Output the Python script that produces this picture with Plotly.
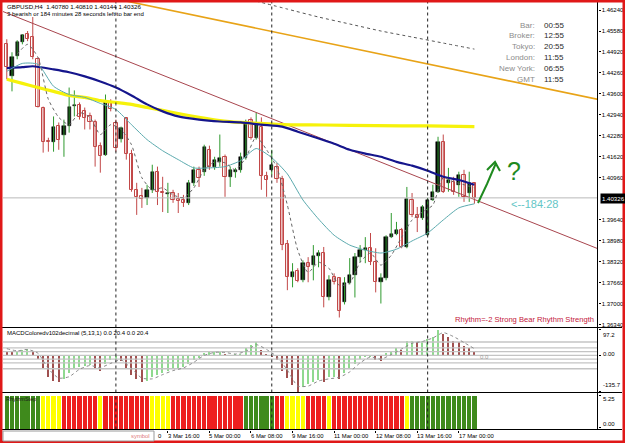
import plotly.graph_objects as go

W, H = 625, 443
def fx(px):
    return px / W
def fy(py):
    return 1 - py / H

# ---------------- data ----------------
bars = list(range(-21, 70))
opens = [1.4516, 1.4415, 1.4478, 1.4523, 1.4548, 1.4539, 1.4469, 1.4317, 1.4213, 1.4210,
         1.4260, 1.4232, 1.4260, 1.4322, 1.4324, 1.4305, 1.4289, 1.4273, 1.4197, 1.4169,
         1.4333, 1.4267, 1.4219, 1.4283, 1.4172, 1.4058, 1.4039, 1.4033, 1.4058, 1.4115,
         1.4052, 1.4045, 1.4048, 1.4030, 1.4026, 1.4017, 1.4080, 1.4121, 1.4115, 1.4184,
         1.4131, 1.4146, 1.4162, 1.4099, 1.4115, 1.4121, 1.4159, 1.4279, 1.4222, 1.4257,
         1.4102, 1.4121, 1.4131, 1.4093, 1.3887, 1.3783, 1.3802, 1.3773, 1.3827, 1.3821,
         1.3849, 1.3859, 1.3719, 1.3783, 1.3779, 1.3704, 1.3764, 1.3789, 1.3846, 1.3868,
         1.3874, 1.3830, 1.3767, 1.3779, 1.3909, 1.3919, 1.3931, 1.3878, 1.4026, 1.3979,
         1.3969, 1.3915, 1.4026, 1.4052, 1.4210, 1.4080, 1.4083, 1.4074, 1.4105, 1.4048,
         1.40780]
highs = [1.4532, 1.4491, 1.4529, 1.4548, 1.4558, 1.4602, 1.4475, 1.4320, 1.4222, 1.4289,
         1.4270, 1.4279, 1.4380, 1.4371, 1.4333, 1.4317, 1.4301, 1.4279, 1.4207, 1.4358,
         1.4343, 1.4279, 1.4257, 1.4286, 1.4184, 1.4080, 1.4064, 1.4074, 1.4137, 1.4131,
         1.4099, 1.4080, 1.4058, 1.4048, 1.4042, 1.4089, 1.4131, 1.4131, 1.4200, 1.4197,
         1.4162, 1.4232, 1.4169, 1.4131, 1.4127, 1.4175, 1.4279, 1.4286, 1.4301, 1.4286,
         1.4115, 1.4184, 1.4143, 1.4102, 1.3900, 1.3827, 1.3811, 1.3836, 1.3846, 1.3884,
         1.3868, 1.3878, 1.3789, 1.3795, 1.3783, 1.3783, 1.3843, 1.3859, 1.3884, 1.3909,
         1.3922, 1.3874, 1.3795, 1.3915, 1.3985, 1.3957, 1.3938, 1.4067, 1.4048, 1.4004,
         1.4010, 1.4033, 1.4074, 1.4225, 1.4232, 1.4127, 1.4099, 1.4115, 1.4121, 1.4115,
         1.40810]
lows = [1.4406, 1.4368, 1.4469, 1.4516, 1.4526, 1.4469, 1.4317, 1.4175, 1.4178, 1.4178,
        1.4184, 1.4162, 1.4238, 1.4289, 1.4279, 1.4248, 1.4248, 1.4131, 1.4112, 1.4165,
        1.4305, 1.4178, 1.4207, 1.4153, 1.4052, 1.3979, 1.4001, 1.4010, 1.4048, 1.4010,
        1.3988, 1.3985, 1.4017, 1.3985, 1.4004, 1.4010, 1.4070, 1.4067, 1.4102, 1.4121,
        1.4121, 1.4131, 1.4036, 1.4067, 1.4096, 1.4112, 1.4153, 1.4216, 1.4216, 1.4058,
        1.4036, 1.4105, 1.4080, 1.3868, 1.3742, 1.3751, 1.3767, 1.3767, 1.3767, 1.3773,
        1.3814, 1.3688, 1.3710, 1.3760, 1.3656, 1.3697, 1.3760, 1.3719, 1.3830, 1.3827,
        1.3821, 1.3735, 1.3700, 1.3773, 1.3906, 1.3915, 1.3874, 1.3874, 1.3972, 1.3925,
        1.3963, 1.3912, 1.4023, 1.4048, 1.4048, 1.4052, 1.4042, 1.4036, 1.4020, 1.4020,
        1.40144]
closes = [1.4444, 1.4475, 1.4523, 1.4545, 1.4532, 1.4475, 1.4320, 1.4207, 1.4210, 1.4257,
          1.4216, 1.4260, 1.4320, 1.4324, 1.4286, 1.4283, 1.4273, 1.4194, 1.4165, 1.4333,
          1.4311, 1.4191, 1.4254, 1.4172, 1.4058, 1.4036, 1.4029, 1.4058, 1.4115, 1.4052,
          1.4048, 1.4048, 1.4026, 1.4024, 1.4017, 1.4080, 1.4121, 1.4096, 1.4194, 1.4131,
          1.4153, 1.4159, 1.4099, 1.4121, 1.4121, 1.4162, 1.4270, 1.4222, 1.4263, 1.4102,
          1.4089, 1.4137, 1.4093, 1.3884, 1.3783, 1.3798, 1.3770, 1.3827, 1.3814, 1.3849,
          1.3859, 1.3719, 1.3773, 1.3767, 1.3678, 1.3764, 1.3789, 1.3846, 1.3868, 1.3874,
          1.3830, 1.3767, 1.3779, 1.3909, 1.3919, 1.3931, 1.3878, 1.4029, 1.3979, 1.3969,
          1.4004, 1.4026, 1.4052, 1.4207, 1.4052, 1.4089, 1.4052, 1.4105, 1.4036, 1.4080,
          1.40326]

# moving averages (sampled bars)
ma_slow_bars = [-21, -18, -16, -12, -9, -6, -3, 0, 3, 6, 9, 12, 16, 20, 24, 28, 32, 35, 38, 42, 45, 48, 51, 54, 57, 60, 63, 66, 69]
ma_slow = [1.4441, 1.4444, 1.4447, 1.4437, 1.4428, 1.4415, 1.4399, 1.4380, 1.4355, 1.4327, 1.4305, 1.4289, 1.4279, 1.4273,
           1.4270, 1.4263, 1.4257, 1.4241, 1.4225, 1.4203, 1.4184, 1.4172, 1.4162, 1.4146, 1.4134, 1.4118, 1.4099, 1.4089, 1.4074]
ma_yellow_bars = [-21, -18, -15, -12, -9, -6, -3, 0, 3, 6, 9, 12, 16, 20, 24, 28, 32, 40, 50, 60, 69]
ma_yellow = [1.4406, 1.4393, 1.4380, 1.4368, 1.4355, 1.4349, 1.4339, 1.4333, 1.4327, 1.4317, 1.4308, 1.4298, 1.4286,
             1.4276, 1.4270, 1.4267, 1.4263, 1.4262, 1.4260, 1.4259, 1.4257]
ma_teal_bars = [-21, -18, -15, -12, -9, -6, -3, 0, 3, 6, 9, 12, 15, 18, 21, 24, 27, 30, 33, 36, 39, 42, 45, 48, 51, 54, 57, 60, 63, 66, 69]
ma_teal = [1.4431, 1.4456, 1.4453, 1.4384, 1.4358, 1.4349, 1.4330, 1.4311, 1.4263, 1.4216, 1.4181, 1.4153, 1.4127, 1.4127,
           1.4131, 1.4150, 1.4188, 1.4159, 1.4108, 1.4026, 1.3966, 1.3915, 1.3884, 1.3868, 1.3859, 1.3871, 1.3897, 1.3922,
           1.3963, 1.4001, 1.4014]
ma_fast_bars = list(range(-19, 70, 2))
ma_fast = [1.4485, 1.4516, 1.4475, 1.4343, 1.4286, 1.4263, 1.4301, 1.4286, 1.4232, 1.4263, 1.4248, 1.4200, 1.4096, 1.4058,
           1.4064, 1.4042, 1.4033, 1.4064, 1.4121, 1.4146, 1.4143, 1.4121, 1.4159, 1.4225, 1.4184, 1.4127, 1.4010, 1.3868,
           1.3798, 1.3830, 1.3811, 1.3757, 1.3764, 1.3830, 1.3859, 1.3821, 1.3852, 1.3909, 1.3963, 1.3988, 1.4010, 1.4096,
           1.4083, 1.4074, 1.4064]
ma_htf_bars = [27, 33, 39, 45, 51, 57, 63, 69]
ma_htf = [1.4652, 1.4627, 1.4602, 1.4580, 1.4558, 1.4539, 1.4520, 1.4501]

trend_orange_bars = [0, 95]
trend_orange = [1.4659, 1.4335]
trend_red_bars = [-22, 95]
trend_red = [1.4621, 1.3858]
current_price = 1.40326

price_ticks = [1.46240, 1.45580, 1.44920, 1.44260, 1.43600, 1.42940, 1.42280, 1.41620,
               1.40960, 1.39640, 1.38980, 1.38320, 1.37660, 1.37000, 1.36340]

macd_hist = [16, 13, 16, 23, 27, 19, -10, -51, -78, -94, -99, -88, -64, -51, -42, -37, -35, -44, -58, -31,
             -17, -11, -21, -44, -71, -88, -98, -94, -80, -71, -64, -58, -51, -48, -42, -31, -17, -8, 9, 13,
             14, 16, 7, 3, 5, 8, 29, 40, 50, 23, 5, -2, -17, -58, -84, -110, -135.7, -118, -104, -98,
             -90, -96, -80, -78, -86, -64, -51, -31, -11, -4, -1, -17, -20, 9, 13, 29, 23, 54, 55, 50,
             56, 63, 72, 97.2, 83, 70, 56, 50, 36, 29, 13]
macd_signal_bars = list(range(-21, 70, 2))
macd_signal = [25, 17, 22, 8, -50, -85, -80, -52, -38, -46, -30, -17, -50, -85, -88, -72, -57, -47, -26, 0,
               11, 11, 5, 15, 40, 22, -5, -55, -115, -115, -96, -88, -82, -62, -28, -6, -14, 3, 24, 45,
               52, 65, 85, 70, 48, 25]
macd_levels = [50, 28, 14, 0, -14, -28, -50]
macd_max, macd_min = 97.2, -135.7

rhythm_state = (['G'] * 7 + ['Y'] * 4 + ['R'] * 7 + ['Y'] * 1 + ['R'] * 9 + ['Y'] * 4 + ['R'] * 14 +
                ['G'] * 6 + ['R'] * 2 + ['Y'] * 4 + ['R'] * 4 + ['Y'] * 1 + ['R'] * 14 + ['Y'] * 1 + ['G'] * 13)
rhythm_top = 5.25

separator_bars = [0, 30, 60]
x_tick_bars = [-14, -6, 2, 10, 18, 26, 34, 42, 50, 58, 66]
x_label_bars = [10, 18, 26, 34, 42, 50, 58, 66]
x_tick_labels = ["3 Mar 16:00", "5 Mar 00:00", "6 Mar 08:00", "9 Mar 16:00",
                 "11 Mar 00:00", "12 Mar 08:00", "13 Mar 16:00", "17 Mar 00:00"]

info_labels = ["Bar:", "Broker:", "Tokyo:", "London:", "New York:", "GMT"]
info_values = ["00:55", "12:55", "20:55", "11:55", "06:55", "11:55"]

# ---------------- figure ----------------
FONT = "Liberation Sans"
XR = [-21.73, 92.69]
fig = go.Figure()

bull = [c >= o for o, c in zip(opens, closes)]

def wick_trace(sel, color):
    xs, ys = [], []
    for b, l, h, s in zip(bars, lows, highs, sel):
        if s:
            xs += [b, b, None]
            ys += [l, h, None]
    return go.Scatter(x=xs, y=ys, mode="lines", line=dict(color=color, width=1),
                      hoverinfo="skip", showlegend=False, xaxis="x", yaxis="y")

fig.add_trace(wick_trace(bull, "#2f9a2f"))
fig.add_trace(wick_trace([not b for b in bull], "#c24848"))

bx = [b for b, s in zip(bars, bull) if s]
fig.add_trace(go.Bar(x=bx,
                     base=[min(o, c) for o, c, s in zip(opens, closes, bull) if s],
                     y=[max(abs(c - o), 0.00003) for o, c, s in zip(opens, closes, bull) if s],
                     width=0.62, marker=dict(color="#000000", line=dict(color="#000000", width=0.5)),
                     showlegend=False, hoverinfo="skip", xaxis="x", yaxis="y"))
rx = [b for b, s in zip(bars, bull) if not s]
fig.add_trace(go.Bar(x=rx,
                     base=[min(o, c) for o, c, s in zip(opens, closes, bull) if not s],
                     y=[max(abs(c - o), 0.00003) for o, c, s in zip(opens, closes, bull) if not s],
                     width=0.62, marker=dict(color="#ffffff", line=dict(color="#c24848", width=1)),
                     showlegend=False, hoverinfo="skip", xaxis="x", yaxis="y"))

def line(xs, ys, color, width, dash="solid", ax="x", ay="y"):
    fig.add_trace(go.Scatter(x=xs, y=ys, mode="lines", line=dict(color=color, width=width, dash=dash, shape="spline", smoothing=0.6),
                             hoverinfo="skip", showlegend=False, xaxis=ax, yaxis=ay))

line(ma_htf_bars, ma_htf, "#555555", 1, "dot")
line(trend_orange_bars, trend_orange, "#e8a317", 1.6)
line(trend_red_bars, trend_red, "#a8454e", 1)
line(XR, [current_price, current_price], "#b9b9b9", 1)
line(ma_yellow_bars, ma_yellow, "#f6f20a", 3.2)
line(ma_slow_bars, ma_slow, "#15158c", 2.2)
line(ma_teal_bars, ma_teal, "#5aa9ad", 1)
line(ma_fast_bars, ma_fast, "#666666", 1, "dot")

# MACD panel
for lv in macd_levels:
    line(XR, [lv, lv], "#c4c4c4", 1.4, ax="x2", ay="y2")
rising = [False] + [macd_hist[i] > macd_hist[i - 1] for i in range(1, len(macd_hist))]
fig.add_trace(go.Bar(x=bars, y=macd_hist, width=0.28,
                     marker=dict(color=["#8fd98f" if r else "#a0504f" for r in rising], line=dict(width=0)),
                     showlegend=False, hoverinfo="skip", xaxis="x2", yaxis="y2"))
line(macd_signal_bars, macd_signal, "#8a8a8a", 1, "dot", ax="x2", ay="y2")

# rhythm panel
state_color = {"G": "#3f8a1c", "R": "#ee1f1f", "Y": "#ffff00"}
fig.add_trace(go.Bar(x=bars, y=[rhythm_top] * len(bars), width=0.82,
                     marker=dict(color=[state_color[s] for s in rhythm_state], line=dict(width=0)),
                     showlegend=False, hoverinfo="skip", xaxis="x3", yaxis="y3"))

# separators
shapes = []
for sb in separator_bars:
    for xa, ya in (("x", "y domain"), ("x2", "y2 domain"), ("x3", "y3 domain")):
        shapes.append(dict(type="line", xref=xa, yref=ya, x0=sb, x1=sb, y0=0, y1=1,
                           line=dict(color="#222222", width=1, dash="dot")))

# panel borders
for py in (327.5, 392.5, 429.5):
    shapes.append(dict(type="line", xref="paper", yref="paper", x0=fx(2), x1=fx(622), y0=fy(py), y1=fy(py),
                       line=dict(color="#000000", width=1)))
shapes.append(dict(type="line", xref="paper", yref="paper", x0=fx(597.5), x1=fx(597.5), y0=fy(429.5), y1=fy(1),
                   line=dict(color="#000000", width=1)))
# outer red frame
shapes.append(dict(type="rect", xref="paper", yref="paper", x0=0, x1=1, y0=0, y1=1,
                   line=dict(color="#e01818", width=5)))
# white "symbol" box on the time strip
shapes.append(dict(type="rect", xref="paper", yref="paper", x0=fx(3), x1=fx(154), y0=fy(441), y1=fy(431),
                   fillcolor="#ffffff", line=dict(color="#9a9a9a", width=1)))
# hand-drawn green arrow
def pth(points):
    return "M " + " L ".join(f"{fx(a):.5f},{fy(b):.5f}" for a, b in points)
shapes.append(dict(type="path", xref="paper", yref="paper", path=pth([(478, 203), (487, 184), (496, 163)]),
                   line=dict(color="#1f8a1f", width=2)))
shapes.append(dict(type="path", xref="paper", yref="paper", path=pth([(487, 170), (495, 162), (500, 171)]),
                   line=dict(color="#1f8a1f", width=2)))

ann = []
def text(x, y, s, size, color="#000000", xanchor="left", yanchor="middle", **kw):
    d = dict(x=fx(x), y=fy(y), xref="paper", yref="paper", text=s, showarrow=False,
             xanchor=xanchor, yanchor=yanchor, font=dict(family=FONT, size=size, color=color))
    d.update(kw)
    ann.append(d)

text(5, 6.5, "GBPUSD,H4&nbsp;&nbsp;1.40780 1.40810 1.40144 1.40326", 6.2)
text(5, 14.5, "3 bearish or 184 minutes 28 seconds left to bar end", 6.0)
for k, (lab, val) in enumerate(zip(info_labels, info_values)):
    yy = 25 + 10.9 * k
    text(537, yy, lab, 8, "#8c8c8c", xanchor="right")
    text(542, yy, val, 8, "#2a2a2a")
text(509, 204, "&lt;--184:28", 11, "#63c6c6")
text(505, 171, "?", 25, "#1f8a1f")
text(596, 319.5, "Rhythm=-2 Strong Bear Rhythm Strength", 7.6, "#c4203c", xanchor="right")
text(5, 333, "MACDColoredv102decimal (5,13,1) 0.0 20.4 0.0 20.4", 6.0)
text(478, 357, "0.0", 6, "#9a9a9a")
text(4, 399, "RhythmStep", 5.5, "#1a1a1a")

# right-hand scale labels of the lower panels
text(600.5, 329.5, f"{macd_max:.1f}", 6.0, yanchor="top")
text(600.5, 354, "0.00", 6.0)
text(600.5, 390, f"{macd_min:.1f}", 6.0, yanchor="bottom")
text(600.5, 394, f"{rhythm_top:.2f}", 6.0, yanchor="top")
text(600.5, 428.5, "0.00", 6.0, yanchor="bottom")

# current price label
text(599.5, 198, f"{current_price:.5f}", 6.1, "#ffffff", bgcolor="#000000", borderpad=1)

# x labels
for b, lab in zip(x_label_bars, x_tick_labels):
    ann.append(dict(x=b - 0.4, y=fy(436), xref="x3", yref="paper", text=lab, showarrow=False,
                    xanchor="left", yanchor="middle", font=dict(family=FONT, size=5.9, color="#000000")))
text(152, 436, "symbol", 5.9, "#e07a7a", xanchor="right")
text(156, 436, "0", 5.9)

axis_common = dict(showgrid=False, zeroline=False)
fig.update_layout(
    width=W, height=H, margin=dict(l=0, r=0, t=0, b=0),
    paper_bgcolor="#ffffff", plot_bgcolor="#ffffff", barmode="overlay", bargap=0,
    showlegend=False,
    xaxis=dict(domain=[fx(3), fx(597.5)], range=XR, showticklabels=False, ticks="", **axis_common),
    xaxis2=dict(domain=[fx(3), fx(597.5)], range=XR, showticklabels=False, ticks="", anchor="y2", **axis_common),
    xaxis3=dict(domain=[fx(3), fx(597.5)], range=XR, showticklabels=False, anchor="y3",
                tickvals=x_tick_bars, ticks="outside", ticklen=2, tickcolor="#000000", **axis_common),
    yaxis=dict(domain=[fy(327.5), fy(2)], range=[1.36245, 1.46493], side="right",
               tickvals=price_ticks, ticktext=[f"{v:.5f}" for v in price_ticks],
               ticks="outside", ticklen=2, tickcolor="#000000", ticklabelstandoff=0,
               tickfont=dict(family=FONT, size=6.0, color="#000000"), **axis_common),
    yaxis2=dict(domain=[fy(392.5), fy(328.5)], range=[-139, 100.5], side="right", anchor="x2",
                tickvals=[macd_max, 0, macd_min], showticklabels=False,
                ticks="outside", ticklen=2, tickcolor="#000000", **axis_common),
    yaxis3=dict(domain=[fy(429.5), fy(393.5)], range=[0, 5.5], side="right", anchor="x3",
                tickvals=[rhythm_top, 0.25], showticklabels=False,
                ticks="outside", ticklen=2, tickcolor="#000000", **axis_common),
    shapes=shapes, annotations=ann,
)

fig.write_html("out.html")
